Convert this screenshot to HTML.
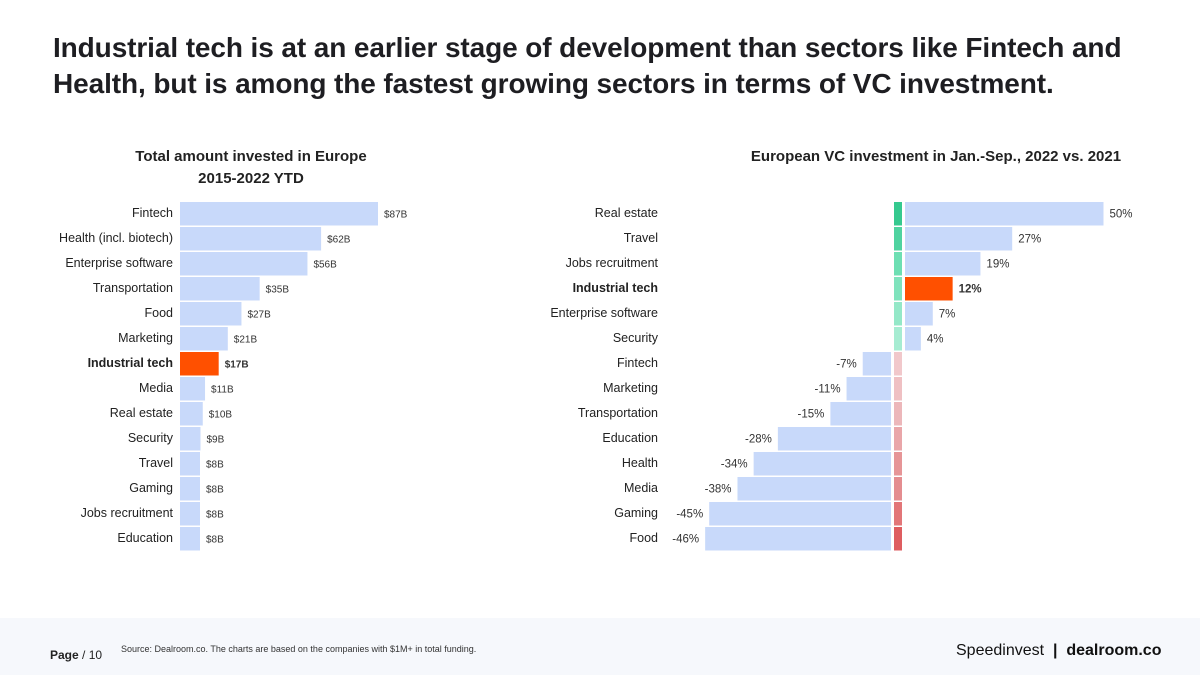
<!DOCTYPE html>
<html><head><meta charset="utf-8">
<style>
html,body{margin:0;padding:0;}
body{width:1200px;height:675px;position:relative;overflow:hidden;background:#fff;font-family:"Liberation Sans",sans-serif;color:#222;}
#panel{position:absolute;left:0;top:100px;width:1200px;height:518px;background:#fff;}
#title{position:absolute;left:53px;top:30px;font-size:28px;font-weight:bold;line-height:36px;color:#1e1e22;letter-spacing:-0.1px;}
#chart{position:absolute;left:0;top:0;}
#footer{position:absolute;left:0;top:618px;width:1200px;height:57px;background:#f6f8fc;}
</style></head><body>
<div id="panel"></div>
<div id="title">Industrial tech is at an earlier stage of development than sectors like Fintech and<br>Health, but is among the fastest growing sectors in terms of VC investment.</div>
<svg id="chart" width="1200" height="675"></svg>
<div id="footer">
<span style="position:absolute;left:50px;top:30px;font-size:12px;"><b>Page</b> / 10</span>
<span style="position:absolute;left:121px;top:26px;font-size:9px;color:#333;">Source: Dealroom.co. The charts are based on the companies with $1M+ in total funding.</span>
<span style="position:absolute;left:956px;top:24px;font-size:16px;color:#111;">Speedinvest &nbsp;<b>|</b>&nbsp; <b>dealroom.co</b></span>
</div>
<script>
const leftCats=["Fintech","Health (incl. biotech)","Enterprise software","Transportation","Food","Marketing","Industrial tech","Media","Real estate","Security","Travel","Gaming","Jobs recruitment","Education"];
const leftVals=[87,62,56,35,27,21,17,11,10,9,8,8,8,8];
const rightCats=["Real estate","Travel","Jobs recruitment","Industrial tech","Enterprise software","Security","Fintech","Marketing","Transportation","Education","Health","Media","Gaming","Food"];
const rightVals=[50,27,19,12,7,4,-7,-11,-15,-28,-34,-38,-45,-46];
const indColors=["#35c98f","#4fd3a0","#6ddfb3","#7fe3bd","#94e8c8","#a6ecd2","#f1c8cb","#efc0c3","#ecb7ba","#e9a6a9","#e69597","#e48d90","#e27678","#de5d60"];
const NS="http://www.w3.org/2000/svg";
const svg=document.getElementById('chart');
function el(t,a,txt){const e=document.createElementNS(NS,t);for(const k in a)e.setAttribute(k,a[k]);if(txt!==undefined)e.textContent=txt;svg.appendChild(e);return e;}
const top0=202,pitch=25,bh=23.5;
function yRow(i){return top0+i*pitch;}
const lx0=180,lScale=198/87;
function xL(v){return lx0+Math.max(v*lScale,20);}
let t=el('text',{x:251,y:161,'text-anchor':'middle','font-size':15,'font-weight':'bold',fill:'#222'},'Total amount invested in Europe');

t=el('text',{x:251,y:183,'text-anchor':'middle','font-size':15,'font-weight':'bold',fill:'#222'},'2015-2022 YTD');

leftCats.forEach((c,i)=>{
  const hi=c==="Industrial tech";
  const y=yRow(i);
  const r=el('rect',{x:lx0,y:y,width:xL(leftVals[i])-lx0,height:bh,fill:hi?'#ff5000':'#c8d9fa'});
  
  const l=el('text',{x:173,y:y+bh/2+3,'text-anchor':'end','font-size':12.5,'font-weight':hi?'bold':'normal',fill:'#222'},c);
  
  const v=el('text',{x:xL(leftVals[i])+6,y:y+bh/2+3.5,'font-size':10,'font-weight':hi?'bold':'normal',fill:'#333'},'$'+leftVals[i]+'B');
  
});
const zeroN=891,zeroP=905,rScale=3.97;
function xR(v){return v>=0?zeroP+v*rScale:zeroN+v*4.04;}
t=el('text',{x:936,y:161,'text-anchor':'middle','font-size':15,'font-weight':'bold',fill:'#222'},'European VC investment in Jan.-Sep., 2022 vs. 2021');

rightCats.forEach((c,i)=>{
  const hi=c==="Industrial tech";
  const y=yRow(i);const v=rightVals[i];
  const x1=v>=0?zeroP:xR(v), w=v>=0?xR(v)-zeroP:zeroN-xR(v);
  const r=el('rect',{x:x1,y:y,width:w,height:bh,fill:hi?'#ff5000':'#c8d9fa'});
  
  const ind=el('rect',{x:894,y:y,width:8,height:bh,fill:indColors[i]});
  
  const l=el('text',{x:658,y:y+bh/2+3,'text-anchor':'end','font-size':12.5,'font-weight':hi?'bold':'normal',fill:'#222'},c);
  
  const vl=el('text',{x:v>=0?xR(v)+6:xR(v)-6,y:y+bh/2+3.5,'text-anchor':v>=0?'start':'end','font-size':11.5,'font-weight':hi?'bold':'normal',fill:'#333'},v+'%');
  
});
</script>
</body></html>
